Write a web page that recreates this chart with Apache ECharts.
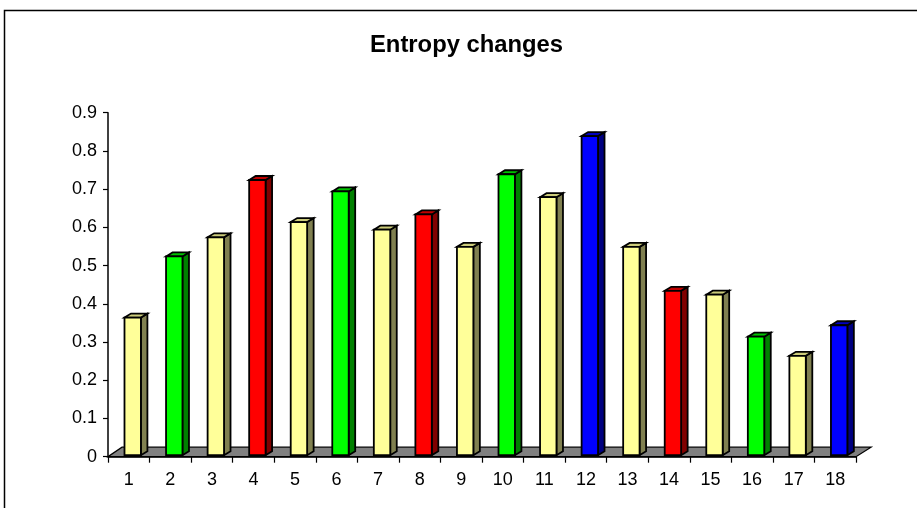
<!DOCTYPE html>
<html>
<head>
<meta charset="utf-8">
<script src="https://cdn.jsdelivr.net/npm/echarts@6/dist/echarts.min.js"></script>
<style>
html,body{margin:0;padding:0;background:#fff;}
#c{width:917px;height:508px;}
</style>
</head>
<body>
<div id="c"></div>
<script>
const categories = ['1','2','3','4','5','6','7','8','9','10','11','12','13','14','15','16','17','18'];
const values = [0.36,0.52,0.57,0.72,0.61,0.69,0.59,0.63,0.545,0.735,0.675,0.835,0.545,0.43,0.42,0.31,0.26,0.34];
const groups = ['Y','G','Y','R','Y','G','Y','R','Y','G','Y','B','Y','R','Y','G','Y','B'];
const yTicks = [0,0.1,0.2,0.3,0.4,0.5,0.6,0.7,0.8,0.9];

const palette = {
  Y: {front:'#FFFF99', side:'#808050', top:'#CCCC7A'},
  G: {front:'#00FF00', side:'#008000', top:'#00C000'},
  R: {front:'#FF0000', side:'#800000', top:'#C00000'},
  B: {front:'#0000FF', side:'#000080', top:'#0000C0'}
};

const chart = echarts.init(document.getElementById('c'), null, {renderer:'canvas'});
const font = 'Liberation Sans, Arial, sans-serif';

const option = {
  animation: false,
  backgroundColor: '#fff',
  title: {
    text: 'Entropy changes',
    left: 370,
    top: 33,
    padding: 0,
    textStyle: {fontFamily: font, fontWeight: 'bold', fontSize: 23.8, color: '#000'}
  },
  graphic: [{
    type: 'rect',
    shape: {x: 4.5, y: 10.5, width: 1000, height: 1000},
    style: {fill: 'none', stroke: '#000', lineWidth: 1.5},
    silent: true, z: -1
  }],
  grid: {left: 108, right: 61, top: 112.7, bottom: 51.3},
  xAxis: {
    type: 'category',
    data: categories,
    boundaryGap: true,
    axisLine: {show: true, lineStyle: {color: '#000', width: 1.5}},
    axisTick: {show: true, length: 6, lineStyle: {color: '#000', width: 1.2}},
    axisLabel: {fontFamily: font, fontSize: 18, color: '#000', margin: 14},
    splitLine: {show: false}
  },
  yAxis: {
    type: 'value',
    min: 0, max: 0.9, interval: 0.1,
    axisLine: {show: true, lineStyle: {color: '#000', width: 1.5}},
    axisTick: {show: true, length: 5, lineStyle: {color: '#000', width: 1.2}},
    axisLabel: {fontFamily: font, fontSize: 18, color: '#000', margin: 11,
      formatter: v => { const t = yTicks.find(x => Math.abs(x - v) < 1e-9); return String(t !== undefined ? t : v); }},
    splitLine: {show: false}
  },
  series: [
    {
      type: 'custom',
      z: 1,
      silent: true,
      data: [[0, 0]],
      renderItem: function (params, api) {
        const cs = params.coordSys;
        const x0 = cs.x, x1 = cs.x + cs.width, y = cs.y + cs.height;
        return {
          type: 'polygon',
          shape: {points: [[x0, y], [x1, y], [x1 + 15, y - 9.5], [x0 + 14, y - 9.5]]},
          style: {fill: '#808080', stroke: '#000', lineWidth: 1.3}
        };
      }
    },
    {
      type: 'custom',
      z: 2,
      data: values.map((v, i) => [i, v]),
      renderItem: function (params, api) {
        const i = api.value(0), v = api.value(1);
        const top = api.coord([i, v]);
        const base = api.coord([i, 0]);
        const bw = api.size([1, 0])[0];
        const w = bw * 0.395;
        const left = top[0] - bw * 0.103;
        const lift = 1.5;
        const y0 = base[1] - lift, y1 = top[1] - lift;
        const dx = 6.5, dy = -4;
        const c = palette[groups[params.dataIndex]];
        const st = {stroke: '#000', lineWidth: 1.8, lineJoin: 'miter'};
        return {
          type: 'group',
          children: [
            {type: 'polygon', shape: {points: [[left + w, y1], [left + w + dx, y1 + dy], [left + w + dx, y0 + dy], [left + w, y0]]},
              style: Object.assign({fill: c.side}, st)},
            {type: 'polygon', shape: {points: [[left, y1], [left + dx, y1 + dy], [left + w + dx, y1 + dy], [left + w, y1]]},
              style: Object.assign({fill: c.top}, st)},
            {type: 'rect', shape: {x: left, y: y1, width: w, height: y0 - y1},
              style: Object.assign({fill: c.front}, st)}
          ]
        };
      }
    }
  ]
};
chart.setOption(option);
</script>
</body>
</html>
